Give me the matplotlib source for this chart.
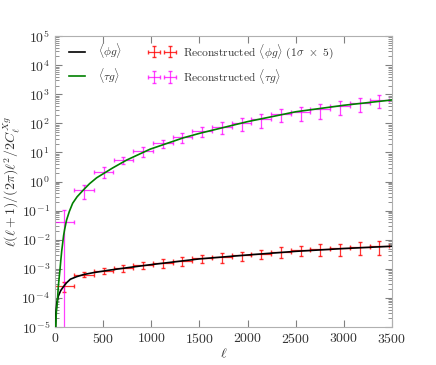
import numpy as np
import matplotlib
matplotlib.use("Agg")
import matplotlib.pyplot as plt

plt.rcParams['font.family'] = 'serif'
plt.rcParams['font.serif'] = ['cmr10', 'DejaVu Serif']
plt.rcParams['mathtext.fontset'] = 'cm'
plt.rcParams['axes.formatter.use_mathtext'] = True

# theory curves
ell_phi = [6, 10, 20, 35, 60, 87, 120, 160, 226, 300, 398, 572, 800, 1000, 1500, 2000,
           2500, 3000, 3500]
cl_phi = [1e-5, 3e-5, 7e-5, 1.15e-4, 1.8e-4, 2.4e-4, 3.3e-4, 4.4e-4, 5.4e-4, 6.4e-4,
          7.4e-4, 9.1e-4, 1.15e-3, 1.4e-3, 2.2e-3, 3.0e-3, 4.0e-3, 5.0e-3, 6.0e-3]

ell_tau = [8, 15, 24, 35, 44, 52, 60, 70, 80, 90, 100, 121, 150, 184, 230, 294, 360, 433,
           600, 745, 988, 1334, 1507, 2000, 2500, 3000, 3500]
cl_tau = [1e-5, 3.5e-5, 6.5e-5, 2.5e-4, 5e-4, 9e-4, 1.8e-3, 4e-3, 7.5e-3, 1.4e-2, 2.2e-2,
          4.8e-2, 0.095, 0.18, 0.30, 0.51, 0.85, 1.35, 2.95, 5.5, 13, 32, 46, 115, 251,
          420, 640]

# reconstructed band powers
ell_b = [97, 302, 506, 711, 915, 1120, 1324, 1529, 1733, 1938, 2142, 2347, 2551, 2756,
         2960, 3165, 3369]
dl_half = [102] * 17

rec_phi = [2.6e-4, 6.3e-4, 8.5e-4, 1.07e-3, 1.35e-3, 1.6e-3, 1.9e-3, 2.35e-3, 2.55e-3,
           2.9e-3, 3.25e-3, 3.9e-3, 4.4e-3, 4.8e-3, 5.05e-3, 5.7e-3, 6.0e-3]
err_phi = [1.0e-4, 1.2e-4, 2.0e-4, 2.8e-4, 3.5e-4, 5e-4, 6e-4, 7e-4, 1.0e-3, 1.0e-3,
           1.15e-3, 1.6e-3, 1.6e-3, 2.1e-3, 2.2e-3, 2.8e-3, 3.0e-3]

rec_tau = [0.040, 0.52, 2.2, 5.5, 11.5, 20.5, 33, 55, 76, 107, 137, 209, 251, 302, 390,
           485, 640]
err_tau = [0.065, 0.27, 0.85, 1.5, 4.5, 6.5, 12, 22, 32, 50, 70, 97, 130, 160, 200, 245, 290]

fig = plt.figure(figsize=(4.36, 3.65), dpi=100)
ax = fig.add_axes([0.126, 0.104, 0.773, 0.797])

e1 = ax.errorbar(ell_b, rec_phi, xerr=dl_half, yerr=err_phi, fmt='none', ecolor='red',
                 elinewidth=0.9, capsize=1.5, alpha=0.8)
e2 = ax.errorbar(ell_b, rec_tau, xerr=dl_half, yerr=err_tau, fmt='none', ecolor='magenta',
                 elinewidth=0.9, capsize=1.5, alpha=0.75)
l1, = ax.plot(ell_phi, cl_phi, color='k', lw=1.2, zorder=3)
l2, = ax.plot(ell_tau, cl_tau, color='green', lw=1.2, zorder=3)

ax.set_yscale('log')
ax.set_xlim(0, 3500)
ax.set_ylim(1e-5, 1e5)
ax.set_xticks([0, 500, 1000, 1500, 2000, 2500, 3000, 3500])
ax.set_yticks([10.0**k for k in range(-5, 6)])
ax.yaxis.set_minor_locator(matplotlib.ticker.LogLocator(base=10, subs=np.arange(2, 10), numticks=20))
ax.yaxis.set_minor_formatter(matplotlib.ticker.NullFormatter())

for s in ax.spines.values():
    s.set_color('#b0b0b0')
ax.tick_params(which='both', direction='in', top=True, right=True, colors='#808080',
               labelcolor='#333333', labelsize=10)
ax.tick_params(which='major', length=5)
ax.tick_params(which='minor', length=3)

ax.set_xlabel(r'$\ell$', fontsize=10, color='#333333', labelpad=1)
ax.set_ylabel(r'$\ell(\ell+1)/(2\pi)\ell^2/2C_\ell^{Xg}$', fontsize=10, color='#333333')
ax.yaxis.set_label_coords(-0.098, 0.5)

ax.legend([l1, l2, e1, e2],
          [r'$\langle\phi g\rangle$', r'$\langle\tau g\rangle$',
           r'Reconstructed $\langle\phi g\rangle$ ($1\sigma\ \times\ 5$)',
           r'Reconstructed $\langle\tau g\rangle$'],
          ncol=2, loc='upper left', frameon=False, fontsize=8.3, numpoints=2,
          handlelength=2.0, columnspacing=2.5, labelcolor='#333333',
          bbox_to_anchor=(0.0, 1.018))

fig.savefig('out.png', dpi=100)
